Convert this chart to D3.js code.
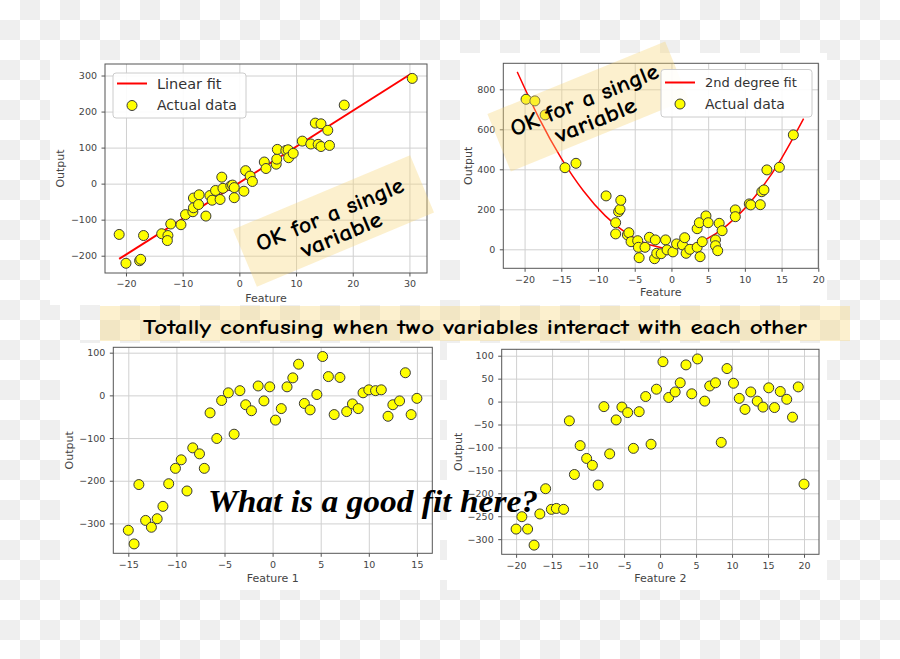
<!DOCTYPE html>
<html lang="en">
<head>
<meta charset="utf-8">
<title>Fit examples</title>
<script src="https://cdn.jsdelivr.net/npm/d3@7"></script>
<style>
  body { margin: 0; background: #fff; }
  svg { display: block; }
  .tick text { font-family: "DejaVu Sans", sans-serif; font-size: 9.5px; fill: #444; }
  .tick line { stroke: #555; }
  .grid line { stroke: #d0d0d0; stroke-width: 1; }
  .axlabel { font-family: "DejaVu Sans", sans-serif; font-size: 11px; fill: #444; }
  .leg { font-family: "DejaVu Sans", sans-serif; font-size: 14px; fill: #333; }
  .note { font-family: "Comic Sans MS", "Comic Neue", "DejaVu Sans", sans-serif; fill: #000; }
</style>
</head>
<body>
<script>
// --- data ---
var linX = [-21.2,-20,-17.6,-17.4,-16.9,-13.7,-12.6,-12.7,-12.1,-10.3,-9.5,-8.2,-8.1,-8.1,-7.1,-7.2,-5.9,-5.2,-4.8,-4.2,-3.4,-3.1,-2.9,-1.5,-1.2,-0.9,-0.9,0.8,1.1,1.9,2.3,4.4,4.7,6.5,6.6,6.7,8.2,8.6,8.7,9.5,11.1,12.6,13.4,13.9,14.4,14.4,15.6,15.9,18.5,30.5];
var linY = [-141,-221,-214,-210,-144,-139,-144,-158,-112,-114,-86,-78,-40,-67,-31,-58,-90,-33,-46,-19,-44,18,-13,-6,-4,-39,-11,-21,36,21,6,60,42,54,68,95,92,94,72,84,118,110,168,109,166,103,148,106,218,292];
var linFitX = [-21.2, 30.3];
var linFitY = [-209, 305];

var quadX = [-19.8,-18.6,-17.2,-14.5,-13.0,-8.9,-7.6,-7.6,-7.2,-7.0,-6.9,-6.0,-5.8,-5.5,-4.6,-4.5,-4.4,-3.6,-3.0,-2.2,-2.3,-2.0,-1.4,-0.8,-0.6,0.2,0.7,1.5,1.8,2.0,2.5,3.5,3.5,3.8,3.9,4.2,4.7,5.0,6.0,6.0,6.3,6.5,6.9,8.7,8.7,10.6,10.8,12.1,12.3,12.6,13.0,14.7,16.6];
var quadY = [750,742,672,408,430,267,77,133,188,200,245,72,83,38,43,10,-42,10,60,47,-47,-20,-22,47,-3,-13,27,22,58,-20,0,10,103,133,-37,38,167,133,47,18,-7,130,93,197,163,227,222,223,288,297,397,410,572];
var quadFitX = [-21,-18,-15,-12,-9,-6,-3,0,3,6,9,12,15,18];
var quadFitY = [887,653,455,293,167,77,23,5,23,77,167,293,455,653];

var f1X = [-15,-14.4,-13.9,-13.2,-12.6,-12.0,-11.4,-10.8,-10.1,-9.5,-8.9,-8.3,-7.6,-7.1,-6.5,-5.8,-5.3,-4.6,-4.0,-3.4,-2.8,-2.2,-1.5,-0.9,-0.3,0.3,0.9,1.5,2.1,2.7,3.3,3.9,4.6,5.2,5.8,6.4,7.0,7.7,8.3,8.9,9.4,10.0,10.7,11.3,12.0,12.5,13.2,13.8,14.4,15.0];
var f1Y = [-316,-348,-209,-293,-309,-289,-260,-207,-171,-151,-224,-123,-137,-171,-41,-101,-12,6,-91,11,-22,-36,22,-13,20,-58,-31,20,41,73,-19,-34,2,91,44,-45,42,-38,-20,-31,6,13,11,13,-49,-22,-13,53,-45,-7];

var f2X = [-20,-19.2,-18.4,-17.5,-16.7,-15.9,-15.1,-14.4,-13.4,-12.6,-11.9,-11.1,-10.2,-9.4,-8.6,-7.8,-7.0,-6.1,-5.3,-4.5,-3.7,-2.9,-2.0,-1.25,-0.5,0.4,1.2,2.1,2.8,3.6,4.4,5.2,6.2,6.9,7.7,8.5,9.3,10.2,11.0,11.8,12.6,13.5,14.3,15.1,15.9,16.7,17.6,18.4,19.2,20];
var f2Y = [-278,-251,-278,-313,-245,-190,-235,-233,-235,-42,-159,-96,-124,-139,-182,-11,-114,-40,-12,-24,-102,-22,11,-93,27,87,9,21,41,80,17,93,1,34,41,-89,72,40,7,-17,21,1,-12,30,-13,22,5,-34,32,-180];

var ticks1X = [-20,-10,0,10,20,30], ticks1Y = [-200,-100,0,100,200,300];
var ticks2X = [-20,-15,-10,-5,0,5,10,15,20], ticks2Y = [0,200,400,600,800];
var ticks3X = [-15,-10,-5,0,5,10,15], ticks3Y = [-300,-200,-100,0,100];
var ticks4X = [-20,-15,-10,-5,0,5,10,15,20], ticks4Y = [-300,-250,-200,-150,-100,-50,0,50,100];

var W = 900, H = 659;
var svg = d3.select("body").append("svg").attr("width", W).attr("height", H);

// checkerboard (transparent background look)
var defs = svg.append("defs");
var pat = defs.append("pattern").attr("id", "checker")
    .attr("patternUnits", "userSpaceOnUse").attr("width", 40).attr("height", 40);
pat.append("rect").attr("width", 40).attr("height", 40).attr("fill", "#fff");
pat.append("rect").attr("x", 20).attr("width", 20).attr("height", 20).attr("fill", "#efefef");
pat.append("rect").attr("y", 20).attr("width", 20).attr("height", 20).attr("fill", "#efefef");
svg.append("rect").attr("width", W).attr("height", H).attr("fill", "url(#checker)");

// white panels behind each plot
[[50,60,440,305],[460,53,827,305],[60,343,440,590],[447,343,827,590]].forEach(function(p) {
  svg.append("rect").attr("x", p[0]).attr("y", p[1])
    .attr("width", p[2]-p[0]).attr("height", p[3]-p[1]).attr("fill", "#fff");
});

var hiFill = "rgba(247, 214, 120, 0.36)";

// band across the middle
svg.append("rect").attr("x", 100).attr("y", 306).attr("width", 750).attr("height", 35).attr("fill", hiFill);
svg.append("text").attr("class", "note").attr("x", 475).attr("y", 334)
    .attr("text-anchor", "middle").style("font-size", "20px").style("font-weight", "bold")
    .attr("textLength", 664).attr("lengthAdjust", "spacingAndGlyphs")
    .text("Totally confusing when two variables interact with each other");

function drawPanel(c) {
  var x = d3.scaleLinear().domain(c.xDom).range([c.left, c.right]);
  var y = d3.scaleLinear().domain(c.yDom).range([c.bottom, c.top]);
  var g = svg.append("g");

  g.append("g").attr("class", "grid").attr("transform", "translate(0," + c.bottom + ")")
    .call(d3.axisBottom(x).tickValues(c.xTicks).tickSize(-(c.bottom - c.top)).tickFormat(""))
    .call(function(s) { s.select(".domain").remove(); });
  g.append("g").attr("class", "grid").attr("transform", "translate(" + c.left + ",0)")
    .call(d3.axisLeft(y).tickValues(c.yTicks).tickSize(-(c.right - c.left)).tickFormat(""))
    .call(function(s) { s.select(".domain").remove(); });

  g.append("g").attr("transform", "translate(0," + c.bottom + ")")
    .call(d3.axisBottom(x).tickValues(c.xTicks).tickSize(3.5).tickPadding(4))
    .call(function(s) { s.select(".domain").remove(); });
  g.append("g").attr("transform", "translate(" + c.left + ",0)")
    .call(d3.axisLeft(y).tickValues(c.yTicks).tickSize(3.5).tickPadding(4.5))
    .call(function(s) { s.select(".domain").remove(); });

  g.append("rect").attr("x", c.left).attr("y", c.top)
    .attr("width", c.right - c.left).attr("height", c.bottom - c.top)
    .attr("fill", "none").attr("stroke", "#555").attr("stroke-width", 1);

  g.append("text").attr("class", "axlabel").attr("x", (c.left + c.right) / 2).attr("y", c.xLabelY)
    .attr("text-anchor", "middle").text(c.xLabel);
  g.append("text").attr("class", "axlabel")
    .attr("transform", "translate(" + c.yLabelX + "," + (c.top + c.bottom) / 2 + ") rotate(-90)")
    .attr("text-anchor", "middle").attr("dy", "0.35em").text("Output");

  if (c.fitX) {
    var line = d3.line().x(function(d) { return x(d[0]); }).y(function(d) { return y(d[1]); })
      .curve(c.fitX.length > 2 ? d3.curveNatural : d3.curveLinear);
    g.append("path").datum(d3.zip(c.fitX, c.fitY)).attr("d", line)
      .attr("fill", "none").attr("stroke", "#f00").attr("stroke-width", c.fitW);
  }

  g.selectAll("circle.pt").data(d3.zip(c.ptsX, c.ptsY)).enter().append("circle")
    .attr("class", "pt")
    .attr("cx", function(d) { return x(d[0]); })
    .attr("cy", function(d) { return y(d[1]); })
    .attr("r", 5).attr("fill", "#ffff00").attr("stroke", "#3a3a3a").attr("stroke-width", 1);
  return g;
}

function drawLegend(l) {
  var g = svg.append("g");
  g.append("rect").attr("x", l.x0).attr("y", l.y0).attr("width", l.x1 - l.x0).attr("height", l.y1 - l.y0)
    .attr("rx", 3).attr("fill", "#fff").attr("fill-opacity", 0.9).attr("stroke", "#ccc");
  g.append("line").attr("x1", l.lx0).attr("x2", l.lx1).attr("y1", l.row1).attr("y2", l.row1)
    .attr("stroke", "#f00").attr("stroke-width", 2);
  g.append("circle").attr("cx", (l.lx0 + l.lx1) / 2).attr("cy", l.row2).attr("r", 5)
    .attr("fill", "#ffff00").attr("stroke", "#3a3a3a");
  g.append("text").attr("class", "leg").attr("x", l.tx).attr("y", l.row1).attr("dy", "0.35em")
    .style("font-size", l.fs1 + "px").text(l.label);
  g.append("text").attr("class", "leg").attr("x", l.tx).attr("y", l.row2).attr("dy", "0.35em")
    .style("font-size", "14px").text("Actual data");
}

function drawNote(cx, cy, ang) {
  var g = svg.append("g").attr("transform", "translate(" + cx + "," + cy + ") rotate(" + ang + ")");
  g.append("rect").attr("x", -96).attr("y", -31).attr("width", 192).attr("height", 62).attr("fill", hiFill);
  g.append("text").attr("class", "note").attr("x", -1).attr("y", 0).attr("text-anchor", "middle")
    .style("font-size", "23px").style("font-weight", "bold")
    .attr("textLength", 158).attr("lengthAdjust", "spacingAndGlyphs")
    .text("OK for a single");
  g.append("text").attr("class", "note").attr("x", 2).attr("y", 23).attr("text-anchor", "middle")
    .style("font-size", "23px").style("font-weight", "bold")
    .attr("textLength", 86).attr("lengthAdjust", "spacingAndGlyphs")
    .text("variable");
}

// top left: linear
drawPanel({left: 105, right: 427, top: 64, bottom: 273, xDom: [-23.7, 33.1], yDom: [-248, 332],
  xTicks: ticks1X, yTicks: ticks1Y, xLabel: "Feature", xLabelY: 302, yLabelX: 60,
  ptsX: linX, ptsY: linY, fitX: linFitX, fitY: linFitY, fitW: 2});
drawLegend({x0: 113, y0: 73, x1: 246, y1: 118, lx0: 117, lx1: 147, row1: 83.5, row2: 105.5,
  tx: 157, label: "Linear fit", fs1: 14.5});
drawNote(333.5, 221, -22.7);

// top right: quadratic
drawPanel({left: 503.3, right: 818.3, top: 63.3, bottom: 268.3, xDom: [-22.9, 20], yDom: [-95, 930],
  xTicks: ticks2X, yTicks: ticks2Y, xLabel: "Feature", xLabelY: 296, yLabelX: 468,
  ptsX: quadX, ptsY: quadY, fitX: quadFitX, fitY: quadFitY, fitW: 1.5});
drawNote(588, 106.5, -22.2);
drawLegend({x0: 661, y0: 69.5, x1: 812, y1: 117, lx0: 665, lx1: 695, row1: 82.5, row2: 104,
  tx: 705, label: "2nd degree fit", fs1: 13});

// bottom left: feature 1
drawPanel({left: 113.3, right: 432.3, top: 347.3, bottom: 553.3, xDom: [-16.56, 16.6], yDom: [-370, 112.6],
  xTicks: ticks3X, yTicks: ticks3Y, xLabel: "Feature 1", xLabelY: 582, yLabelX: 69,
  ptsX: f1X, ptsY: f1Y});

// bottom right: feature 2
drawPanel({left: 501.7, right: 819, top: 349.3, bottom: 554.3, xDom: [-22, 22.08], yDom: [-333, 114],
  xTicks: ticks4X, yTicks: ticks4Y, xLabel: "Feature 2", xLabelY: 582, yLabelX: 458,
  ptsX: f2X, ptsY: f2Y});

svg.append("text").attr("x", 208).attr("y", 512)
  .style("font-family", "'Brush Script MT', 'Liberation Serif', serif")
  .style("font-size", "31px").style("font-style", "italic").style("font-weight", "bold")
  .attr("textLength", 330).attr("lengthAdjust", "spacingAndGlyphs")
  .text("What is a good fit here?");
</script>
</body>
</html>
